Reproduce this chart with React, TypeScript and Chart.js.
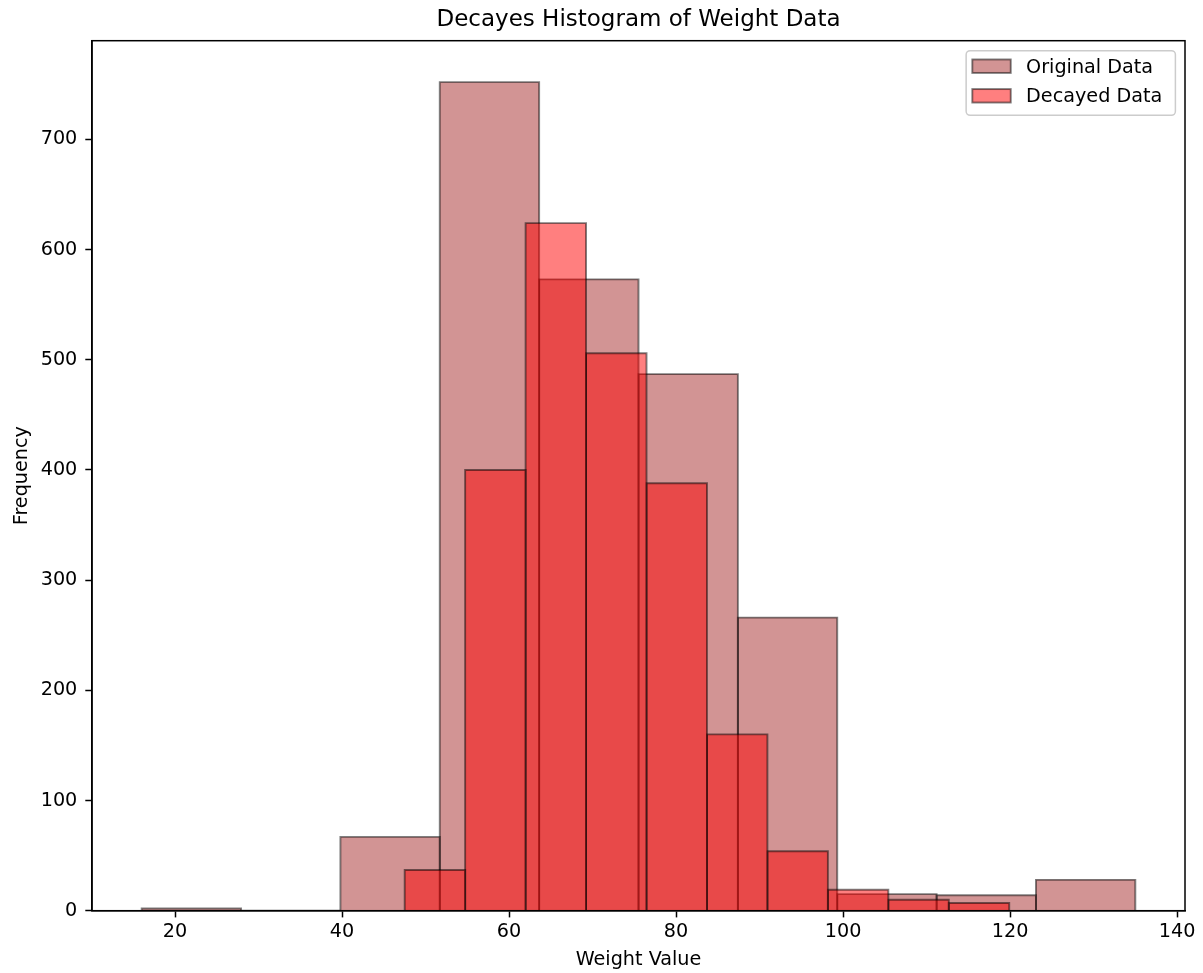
import React, { useEffect, useRef } from 'react';
import { Chart, registerables } from 'chart.js';

Chart.register(...registerables);

// ---- Data ----
const TITLE = 'Decayes Histogram of Weight Data';
const X_LABEL = 'Weight Value';
const Y_LABEL = 'Frequency';
const SERIES_LABELS = ['Original Data', 'Decayed Data'];

const originalEdges = [16.0, 27.9, 39.8, 51.7, 63.6, 75.5, 87.4, 99.3, 111.2, 123.1, 135.0];
const originalCounts = [2, 0, 67, 752, 573, 487, 266, 15, 14, 28];

const decayedEdges = [47.5, 54.74, 61.98, 69.22, 76.46, 83.7, 90.94, 98.18, 105.42, 112.66, 119.9];
const decayedCounts = [37, 400, 624, 506, 388, 160, 54, 19, 10, 7];

const xTicks = [20, 40, 60, 80, 100, 120, 140];
const yTicks = [0, 100, 200, 300, 400, 500, 600, 700];

// ---- Styles ----
const FONT = '"DejaVu Sans", "Liberation Sans", sans-serif';
const ORIGINAL_FILL = 'rgba(165, 42, 42, 0.5)';
const DECAYED_FILL = 'rgba(255, 0, 0, 0.5)';
const EDGE = 'rgba(0, 0, 0, 0.5)';
const SERIES_FILLS = [ORIGINAL_FILL, DECAYED_FILL];

const W = 1203;
const H = 973;

function histDatasets(edges: number[], counts: number[], fill: string, order: number, label: string) {
  return counts.map((c, i) => ({
    type: 'line' as const,
    label,
    order,
    data: [
      { x: edges[i], y: 0 },
      { x: edges[i], y: c },
      { x: edges[i + 1], y: c },
      { x: edges[i + 1], y: 0 },
    ],
    fill: 'origin',
    backgroundColor: fill,
    borderColor: EDGE,
    borderWidth: 1.9,
    pointRadius: 0,
    pointHoverRadius: 0,
    tension: 0,
    borderJoinStyle: 'miter' as const,
  }));
}

const spinePlugin = {
  id: 'spines',
  afterDatasetsDraw(chart: any) {
    const { ctx, chartArea } = chart;
    ctx.save();
    ctx.strokeStyle = '#000';
    ctx.lineWidth = 1.5;
    ctx.strokeRect(chartArea.left, chartArea.top, chartArea.right - chartArea.left, chartArea.bottom - chartArea.top);
    ctx.restore();
  },
};

const legendPlugin = {
  id: 'mplLegend',
  afterDraw(chart: any) {
    const { ctx, chartArea } = chart;
    const fs = 19.2;
    ctx.save();
    ctx.font = `${fs}px ${FONT}`;
    const textW = Math.max(...SERIES_LABELS.map((l) => ctx.measureText(l).width));
    const pad = 0.4 * fs;
    const handleL = 2 * fs;
    const handleH = 0.7 * fs;
    const gap = 0.8 * fs;
    const rowStep = 29.6;
    const frameW = pad + handleL + gap + textW + pad + 4;
    const frameH = 64.6;
    const frameRight = chartArea.right - 0.5 * fs;
    const frameTop = chartArea.top + 10;
    const frameLeft = frameRight - frameW;

    ctx.beginPath();
    if ((ctx as any).roundRect) {
      (ctx as any).roundRect(frameLeft, frameTop, frameW, frameH, 4);
    } else {
      ctx.rect(frameLeft, frameTop, frameW, frameH);
    }
    ctx.fillStyle = 'rgba(255,255,255,0.8)';
    ctx.fill();
    ctx.strokeStyle = '#cccccc';
    ctx.lineWidth = 1.5;
    ctx.stroke();

    SERIES_LABELS.forEach((label, i) => {
      const cy = frameTop + 15.5 + i * rowStep;
      const px = frameLeft + pad - 1.5;
      ctx.fillStyle = SERIES_FILLS[i];
      ctx.fillRect(px, cy - handleH / 2, handleL, handleH);
      ctx.strokeStyle = EDGE;
      ctx.lineWidth = 1.9;
      ctx.strokeRect(px, cy - handleH / 2, handleL, handleH);
      ctx.fillStyle = '#000';
      ctx.textAlign = 'left';
      ctx.textBaseline = 'middle';
      ctx.fillText(label, px + handleL + gap, cy + 1.5);
    });
    ctx.restore();
  },
};

export default function App() {
  const canvasRef = useRef<HTMLCanvasElement | null>(null);

  useEffect(() => {
    document.body.style.margin = '0';
    const canvas = canvasRef.current;
    if (!canvas) return;

    const allEdges = [...originalEdges, ...decayedEdges];
    const lo = Math.min(...allEdges);
    const hi = Math.max(...allEdges);
    const xMargin = (hi - lo) * 0.05;
    const yMax = Math.max(...originalCounts, ...decayedCounts) * 1.05;

    const datasets = [
      ...histDatasets(decayedEdges, decayedCounts, DECAYED_FILL, 0, SERIES_LABELS[1]),
      ...histDatasets(originalEdges, originalCounts, ORIGINAL_FILL, 1, SERIES_LABELS[0]),
    ];

    const tickFont = { family: FONT, size: 19.2 };

    const chart = new Chart(canvas, {
      type: 'line',
      data: { datasets: datasets as any },
      options: {
        animation: false,
        responsive: false,
        devicePixelRatio: 1,
        events: [],
        layout: { padding: { left: 0, top: 0, right: 18, bottom: 0 } },
        plugins: {
          legend: { display: false },
          tooltip: { enabled: false },
          title: {
            display: true,
            fullSize: false,
            text: TITLE,
            color: '#000',
            font: { family: FONT, size: 23, weight: 'normal' as any, lineHeight: 1.2 },
            padding: { top: 6.2, bottom: 6.9 },
          },
        },
        scales: {
          x: {
            type: 'linear',
            min: lo - xMargin,
            max: hi + xMargin,
            afterBuildTicks: (scale: any) => {
              scale.ticks = xTicks.map((v) => ({ value: v }));
            },
            afterFit: (scale: any) => {
              scale.height = 62.3;
            },
            ticks: {
              color: '#000',
              font: tickFont,
              padding: 3.5,
              maxRotation: 0,
              autoSkip: false,
            },
            grid: {
              display: true,
              drawOnChartArea: false,
              drawTicks: true,
              tickLength: 6.7,
              tickWidth: 1.5,
              tickColor: '#000',
            },
            border: { display: true, color: '#000', width: 1.5 },
            title: {
              display: true,
              text: X_LABEL,
              color: '#000',
              font: { family: FONT, size: 19.2, lineHeight: 1.2 },
              padding: { top: 0, bottom: 1.5 },
            },
          },
          y: {
            type: 'linear',
            min: 0,
            max: yMax,
            afterBuildTicks: (scale: any) => {
              scale.ticks = yTicks.map((v) => ({ value: v }));
            },
            afterFit: (scale: any) => {
              scale.width = 92;
            },
            ticks: {
              color: '#000',
              font: tickFont,
              padding: 8,
              autoSkip: false,
            },
            grid: {
              display: true,
              drawOnChartArea: false,
              drawTicks: true,
              tickLength: 6.7,
              tickWidth: 1.5,
              tickColor: '#000',
            },
            border: { display: true, color: '#000', width: 1.5 },
            title: {
              display: true,
              text: Y_LABEL,
              color: '#000',
              font: { family: FONT, size: 19.2, lineHeight: 1.2 },
              padding: { top: 10.2, bottom: 0 },
            },
          },
        },
      },
      plugins: [spinePlugin, legendPlugin],
    });

    return () => {
      chart.destroy();
    };
  }, []);

  return (
    <div style={{ position: 'absolute', left: 0, top: 0, width: W, height: H, background: '#fff' }}>
      <canvas ref={canvasRef} width={W} height={H} style={{ width: W, height: H, display: 'block' }} />
    </div>
  );
}
